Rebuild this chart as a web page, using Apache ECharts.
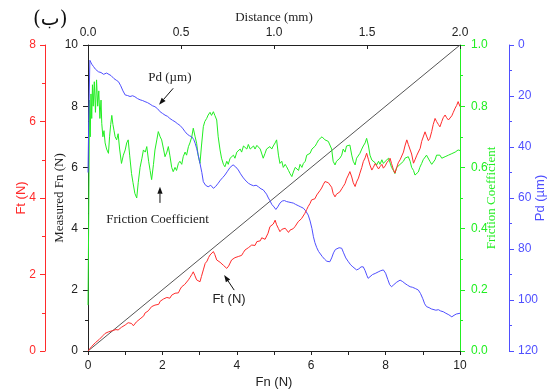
<!DOCTYPE html>
<html><head><meta charset="utf-8">
<script src="https://cdn.jsdelivr.net/npm/echarts@6/dist/echarts.min.js"></script>
<style>html,body{margin:0;padding:0;background:#fff}#c{width:547px;height:392px}</style>
</head><body><div id="c"></div>
<script>
// ---- data (x = Fn in N) ----
const ftData = [[0,0],[0.05,0.05],[0.1,0.12],[0.15,0.15],[0.2,0.22],[0.25,0.25],[0.3,0.3],[0.35,0.33],[0.4,0.4],[0.46,0.46],[0.5,0.44],[0.55,0.5],[0.6,0.48],[0.65,0.53],[0.7,0.51],[0.75,0.56],[0.81,0.55],[0.86,0.6],[0.9,0.62],[0.95,0.6],[1.0,0.68],[1.04,0.66],[1.08,0.74],[1.12,0.7],[1.17,0.72],[1.22,0.66],[1.26,0.68],[1.3,0.76],[1.35,0.8],[1.4,0.84],[1.45,0.82],[1.5,0.92],[1.53,0.99],[1.58,0.96],[1.62,1.05],[1.66,1.1],[1.71,1.16],[1.76,1.12],[1.8,1.2],[1.85,1.24],[1.9,1.22],[1.94,1.3],[1.98,1.33],[2.03,1.36],[2.08,1.32],[2.12,1.4],[2.16,1.42],[2.2,1.38],[2.25,1.46],[2.3,1.44],[2.34,1.51],[2.38,1.55],[2.43,1.52],[2.48,1.62],[2.52,1.68],[2.56,1.65],[2.6,1.74],[2.65,1.78],[2.7,1.86],[2.74,1.92],[2.79,2.0],[2.83,2.07],[2.87,1.98],[2.92,1.86],[2.96,1.84],[3.01,1.81],[3.05,1.95],[3.1,2.12],[3.15,2.29],[3.2,2.35],[3.24,2.44],[3.28,2.51],[3.33,2.56],[3.37,2.6],[3.41,2.52],[3.46,2.38],[3.5,2.42],[3.55,2.32],[3.59,2.29],[3.64,2.24],[3.68,2.2],[3.73,2.16],[3.78,2.22],[3.82,2.3],[3.86,2.38],[3.91,2.36],[3.95,2.44],[4.0,2.42],[4.04,2.47],[4.09,2.52],[4.13,2.5],[4.18,2.58],[4.22,2.64],[4.27,2.62],[4.31,2.7],[4.36,2.68],[4.4,2.77],[4.45,2.8],[4.49,2.76],[4.54,2.86],[4.58,2.9],[4.63,2.88],[4.67,2.96],[4.71,2.95],[4.76,2.92],[4.8,2.9],[4.84,3.08],[4.89,3.25],[4.93,3.2],[4.98,3.32],[5.03,3.42],[5.07,3.3],[5.12,3.2],[5.16,3.12],[5.21,3.18],[5.25,3.14],[5.3,3.21],[5.34,3.16],[5.39,3.1],[5.43,3.16],[5.48,3.12],[5.52,3.2],[5.57,3.26],[5.61,3.22],[5.65,3.38],[5.7,3.34],[5.74,3.46],[5.79,3.5],[5.83,3.6],[5.88,3.7],[5.92,3.78],[5.97,3.86],[6.01,3.95],[6.06,4.0],[6.1,3.98],[6.15,4.08],[6.19,4.12],[6.24,4.2],[6.28,4.26],[6.33,4.36],[6.37,4.43],[6.42,4.46],[6.46,4.4],[6.5,4.38],[6.55,4.28],[6.59,4.12],[6.64,4.03],[6.68,4.1],[6.73,4.14],[6.77,4.16],[6.82,4.24],[6.86,4.3],[6.91,4.38],[6.95,4.5],[7.0,4.6],[7.04,4.69],[7.09,4.55],[7.13,4.4],[7.18,4.3],[7.22,4.42],[7.27,4.52],[7.31,4.65],[7.36,4.8],[7.4,4.95],[7.45,5.05],[7.49,5.17],[7.54,5.0],[7.58,4.86],[7.63,4.73],[7.67,4.8],[7.72,4.9],[7.76,4.86],[7.81,4.76],[7.85,4.82],[7.9,4.88],[7.94,4.78],[7.99,4.84],[8.03,4.92],[8.08,4.98],[8.12,5.04],[8.16,4.9],[8.21,4.74],[8.25,4.65],[8.3,4.8],[8.34,4.92],[8.39,5.0],[8.43,5.04],[8.48,5.2],[8.52,5.36],[8.57,5.52],[8.61,5.4],[8.66,5.43],[8.7,5.15],[8.75,4.91],[8.79,5.0],[8.84,5.12],[8.88,5.08],[8.93,5.3],[8.97,5.48],[9.02,5.62],[9.06,5.73],[9.1,5.62],[9.15,5.5],[9.19,5.56],[9.24,5.74],[9.28,5.92],[9.33,6.08],[9.37,6.0],[9.42,5.92],[9.46,5.86],[9.51,6.0],[9.55,6.1],[9.6,6.17],[9.64,6.1],[9.69,6.04],[9.73,6.04],[9.78,6.15],[9.82,6.24],[9.87,6.35],[9.91,6.42],[9.95,6.52],[10,6.39]];

const frictionData = [[0,0.15],[0.02,0.45],[0.04,0.82],[0.06,0.7],[0.08,0.84],[0.1,0.76],[0.12,0.87],[0.14,0.8],[0.17,0.88],[0.2,0.78],[0.23,0.886],[0.26,0.8],[0.29,0.85],[0.32,0.76],[0.35,0.82],[0.37,0.744],[0.4,0.7],[0.43,0.72],[0.46,0.68],[0.5,0.66],[0.55,0.646],[0.58,0.7],[0.61,0.74],[0.64,0.77],[0.67,0.74],[0.7,0.72],[0.73,0.7],[0.77,0.69],[0.81,0.71],[0.85,0.66],[0.9,0.613],[0.95,0.64],[1.0,0.657],[1.04,0.68],[1.08,0.69],[1.12,0.64],[1.17,0.58],[1.21,0.55],[1.26,0.515],[1.31,0.5],[1.35,0.55],[1.4,0.6],[1.45,0.63],[1.49,0.657],[1.54,0.65],[1.58,0.668],[1.63,0.62],[1.67,0.59],[1.71,0.56],[1.76,0.61],[1.8,0.657],[1.85,0.69],[1.89,0.717],[1.94,0.7],[1.98,0.69],[2.03,0.66],[2.07,0.635],[2.12,0.65],[2.16,0.668],[2.2,0.64],[2.25,0.6],[2.29,0.586],[2.34,0.6],[2.38,0.59],[2.43,0.613],[2.47,0.62],[2.52,0.61],[2.56,0.635],[2.61,0.65],[2.65,0.64],[2.7,0.668],[2.74,0.68],[2.79,0.7],[2.83,0.728],[2.88,0.7],[2.92,0.679],[2.96,0.64],[3.01,0.613],[3.05,0.67],[3.1,0.733],[3.14,0.75],[3.19,0.76],[3.23,0.771],[3.28,0.78],[3.32,0.77],[3.37,0.782],[3.41,0.77],[3.46,0.755],[3.5,0.7],[3.55,0.657],[3.59,0.63],[3.64,0.61],[3.68,0.602],[3.73,0.62],[3.77,0.61],[3.82,0.63],[3.86,0.624],[3.91,0.64],[3.95,0.63],[4.0,0.65],[4.04,0.646],[4.09,0.66],[4.13,0.65],[4.18,0.67],[4.22,0.668],[4.27,0.66],[4.31,0.675],[4.36,0.66],[4.4,0.657],[4.45,0.67],[4.49,0.66],[4.54,0.672],[4.58,0.668],[4.63,0.66],[4.67,0.665],[4.71,0.63],[4.76,0.646],[4.8,0.66],[4.85,0.655],[4.89,0.668],[4.94,0.66],[4.98,0.67],[5.03,0.68],[5.07,0.69],[5.12,0.64],[5.16,0.613],[5.21,0.62],[5.25,0.6],[5.3,0.61],[5.34,0.602],[5.39,0.59],[5.43,0.58],[5.48,0.57],[5.52,0.585],[5.57,0.6],[5.61,0.602],[5.66,0.59],[5.7,0.61],[5.75,0.6],[5.79,0.613],[5.84,0.62],[5.88,0.64],[5.93,0.635],[5.97,0.646],[6.02,0.66],[6.06,0.655],[6.11,0.67],[6.15,0.679],[6.2,0.69],[6.24,0.685],[6.29,0.7],[6.33,0.7],[6.37,0.69],[6.42,0.695],[6.46,0.685],[6.5,0.679],[6.55,0.66],[6.59,0.62],[6.64,0.608],[6.68,0.62],[6.73,0.615],[6.77,0.63],[6.82,0.64],[6.86,0.66],[6.91,0.65],[6.95,0.67],[7.0,0.665],[7.04,0.673],[7.09,0.64],[7.13,0.62],[7.18,0.608],[7.22,0.63],[7.27,0.625],[7.31,0.646],[7.36,0.66],[7.4,0.67],[7.45,0.68],[7.49,0.695],[7.54,0.67],[7.58,0.64],[7.63,0.624],[7.67,0.63],[7.72,0.615],[7.76,0.608],[7.81,0.62],[7.85,0.61],[7.9,0.625],[7.94,0.613],[7.99,0.62],[8.03,0.615],[8.08,0.63],[8.12,0.624],[8.16,0.6],[8.21,0.59],[8.25,0.58],[8.3,0.6],[8.34,0.595],[8.39,0.61],[8.43,0.613],[8.48,0.62],[8.52,0.63],[8.57,0.625],[8.61,0.635],[8.66,0.62],[8.7,0.6],[8.75,0.59],[8.79,0.575],[8.83,0.57],[8.88,0.585],[8.92,0.6],[8.97,0.613],[9.01,0.625],[9.06,0.63],[9.1,0.64],[9.15,0.635],[9.19,0.62],[9.24,0.61],[9.28,0.613],[9.33,0.625],[9.37,0.64],[9.42,0.635],[9.46,0.64],[9.51,0.63],[9.55,0.625],[9.6,0.635],[9.64,0.63],[9.69,0.64],[9.73,0.635],[9.78,0.645],[9.82,0.64],[9.87,0.65],[9.91,0.645],[9.95,0.657],[10,0.655]];

const pdData = [[0,50],[0.02,30],[0.05,6],[0.1,7.5],[0.15,8.5],[0.2,9.5],[0.28,10.5],[0.35,10.8],[0.42,11.5],[0.5,11],[0.55,11.1],[0.62,12],[0.7,13.2],[0.76,13.8],[0.82,14.4],[0.88,16],[0.94,18],[1.0,19.6],[1.06,19.8],[1.13,20.2],[1.2,19.9],[1.26,20.3],[1.33,21],[1.4,21.5],[1.47,21.8],[1.53,22.2],[1.6,22.6],[1.67,23.2],[1.73,23.8],[1.8,24.2],[1.87,25],[1.94,26.2],[2.0,26.8],[2.07,27.5],[2.14,28],[2.2,28.8],[2.27,29.5],[2.34,30.1],[2.4,30.8],[2.47,31.5],[2.54,32.6],[2.61,34],[2.67,35],[2.73,35.6],[2.79,36],[2.84,37],[2.88,38.5],[2.92,40.5],[2.96,43],[3.01,46.4],[3.06,50],[3.1,53.6],[3.16,55],[3.23,55.6],[3.3,55],[3.37,56.2],[3.43,55.5],[3.5,54.2],[3.56,53],[3.62,52],[3.68,51],[3.75,49.5],[3.82,48],[3.9,47],[3.97,47.8],[4.04,49],[4.1,50.5],[4.16,51.8],[4.22,52.9],[4.31,54.2],[4.38,54.8],[4.45,55.2],[4.52,55],[4.58,55.6],[4.65,56.4],[4.71,56.8],[4.76,57.5],[4.8,58.5],[4.85,60],[4.89,61],[4.94,62.5],[5.0,63.5],[5.05,64.5],[5.1,63.5],[5.16,62],[5.22,61.2],[5.28,61],[5.34,61.4],[5.4,61.6],[5.46,61.8],[5.52,62],[5.58,62.5],[5.65,63],[5.72,63.5],[5.79,64],[5.85,65],[5.92,66.7],[5.97,69],[6.02,72],[6.06,75.2],[6.1,77.5],[6.15,79.5],[6.2,81],[6.24,81.7],[6.3,83],[6.36,84],[6.42,84.8],[6.5,85],[6.55,83.5],[6.6,81.5],[6.65,80.2],[6.69,79.7],[6.75,79.5],[6.82,79.7],[6.87,81.5],[6.93,83.5],[7.0,85],[7.06,86.2],[7.12,87],[7.17,87.5],[7.22,88.2],[7.28,87.8],[7.34,87],[7.4,87],[7.45,88.5],[7.5,90.5],[7.53,91.5],[7.58,91],[7.65,90],[7.72,89.6],[7.8,89],[7.87,88.5],[7.94,88.2],[8.0,89.5],[8.06,92],[8.11,94],[8.16,94.8],[8.22,94],[8.3,93],[8.39,92.2],[8.46,92.8],[8.52,93.5],[8.59,94.2],[8.66,94.8],[8.72,95],[8.8,95.5],[8.88,96.1],[8.94,97.5],[9.0,99.5],[9.05,101.5],[9.1,102.6],[9.17,103],[9.23,103.5],[9.28,103.7],[9.35,104],[9.42,103.8],[9.48,104.3],[9.55,104.6],[9.62,105.2],[9.7,105.8],[9.74,106.4],[9.78,106.6],[9.84,106],[9.9,105.5],[9.95,105],[10,105.2]];

const diagonalData = [[0,0],[10,10]];

const topTicks = ['0.0','0.5','1.0','1.5','2.0'];

// annotations in (Fn, Measured Fn) coordinates
const annoTexts = [
  {text:'Pd (\u00b5m)', at:[2.20, 8.92], font:'Liberation Serif'},
  {text:'Friction Coefficient', at:[1.87, 4.31], font:'Liberation Serif'},
  {text:'Ft (N)', at:[3.79, 1.67], font:'Liberation Sans'}
];
const annoArrows = [
  [[2.29, 8.585],[1.91, 8.05]],
  [[1.935, 4.84],[1.935, 5.37]],
  [[3.93, 1.99],[3.66, 2.48]]
];

const RED='#ff2b2b', GREEN='#22ee22', BLUE='#4f4fff', AX='#222';
const sans='Liberation Sans', serif='Liberation Serif';

const chart = echarts.init(document.getElementById('c'), null, {renderer:'canvas'});

function yAx(o){
  return Object.assign({
    type:'value', splitLine:{show:false}, nameMoveOverlap:false,
    axisLine:{show:true, onZero:false, lineStyle:{color:o.color, width:1}},
    axisTick:{show:true, inside:false, length:5, lineStyle:{color:o.color}},
    minorTick:{show:true, splitNumber:2, length:3, lineStyle:{color:o.color}},
    axisLabel:{color:o.color, fontFamily:sans, fontSize:12, margin:o.margin||8},
    nameLocation:'middle', nameTextStyle:{color:o.color, fontFamily:o.nf||sans, fontSize:13}
  }, o.extra);
}

chart.setOption({
  animation:false,
  backgroundColor:'#fff',
  grid:{left:88, right:87, top:45, bottom:41, containLabel:false, outerBoundsMode:'none'},
  xAxis:[
    {type:'value', position:'bottom', min:0, max:10, interval:2, nameMoveOverlap:false,
     axisLine:{onZero:false, lineStyle:{color:AX}}, splitLine:{show:false},
     axisTick:{length:4, lineStyle:{color:AX}}, minorTick:{show:true, splitNumber:2, length:4, lineStyle:{color:AX}},
     axisLabel:{color:AX, fontFamily:sans, fontSize:12, margin:9},
     name:'Fn (N)', nameLocation:'middle', nameGap:25, nameTextStyle:{color:AX, fontFamily:sans, fontSize:13}},
    {type:'value', position:'top', min:0, max:2, interval:0.5, nameMoveOverlap:false,
     axisLine:{onZero:false, lineStyle:{color:AX}}, splitLine:{show:false},
     axisTick:{inside:true, length:4, lineStyle:{color:AX}}, minorTick:{show:false},
     axisLabel:{color:AX, fontFamily:sans, fontSize:12, margin:6, formatter:(v)=>topTicks[Math.round(v/0.5)]},
     name:'Distance (mm)', nameLocation:'middle', nameGap:21, nameTextStyle:{color:AX, fontFamily:serif, fontSize:13}}
  ],
  yAxis:[
    yAx({color:AX, margin:10, nf:serif, extra:{position:'left', offset:0, min:0, max:10, interval:2, name:'Measured Fn (N)', nameGap:22}}),
    yAx({color:RED, margin:9, extra:{position:'left', offset:43, min:0, max:8, interval:2, name:'Ft (N)', nameGap:17}}),
    yAx({color:GREEN, margin:11, nf:serif, extra:{position:'right', offset:0, min:0, max:1, interval:0.2, name:'Friction Coefficient', nameGap:25,
         axisLabel:{color:GREEN, fontFamily:sans, fontSize:12, margin:11, formatter:(v)=>v.toFixed(1)}}}),
    yAx({color:BLUE, margin:9, extra:{position:'right', offset:49, min:0, max:120, interval:20, inverse:true, name:'Pd (\u00b5m)', nameGap:25}})
  ],
  series:[
    {type:'line', name:'diag', xAxisIndex:0, yAxisIndex:0, data:diagonalData, symbol:'none', silent:true,
     lineStyle:{color:'#555', width:1}},
    {type:'line', name:'Friction', xAxisIndex:0, yAxisIndex:2, data:frictionData, symbol:'none', lineStyle:{color:GREEN, width:1}},
    {type:'line', name:'Pd', xAxisIndex:0, yAxisIndex:3, data:pdData, symbol:'none', lineStyle:{color:BLUE, width:1}},
    {type:'line', name:'Ft', xAxisIndex:0, yAxisIndex:1, data:ftData, symbol:'none', lineStyle:{color:RED, width:1}}
  ]
});

const graphics = annoTexts.map(a=>{
  const p = chart.convertToPixel({xAxisIndex:0, yAxisIndex:0}, a.at);
  return {type:'text', x:p[0], y:p[1], style:{text:a.text, fill:'#222', font:'13px "'+a.font+'"', align:'center', verticalAlign:'middle'}, z:10};
});
annoArrows.forEach(a=>{
  const p0 = chart.convertToPixel({xAxisIndex:0, yAxisIndex:0}, a[0]);
  const p1 = chart.convertToPixel({xAxisIndex:0, yAxisIndex:0}, a[1]);
  const dx = p1[0]-p0[0], dy = p1[1]-p0[1], L = Math.hypot(dx,dy);
  const ux = dx/L, uy = dy/L, hl = 7, hw = 2.6;
  const bx = p1[0]-ux*hl, by = p1[1]-uy*hl;
  graphics.push({type:'line', shape:{x1:p0[0], y1:p0[1], x2:bx, y2:by}, style:{stroke:'#111', lineWidth:1}, z:10});
  graphics.push({type:'polygon', shape:{points:[[p1[0],p1[1]],[bx-uy*hw,by+ux*hw],[bx+uy*hw,by-ux*hw]]}, style:{fill:'#111'}, z:10});
});
graphics.push({type:'text', left:33, top:10, style:{text:'(\u0628)', fill:'#111', font:'20px "DejaVu Serif", "DejaVu Sans", serif'}});
chart.setOption({graphic:graphics});
</script>
</body></html>
